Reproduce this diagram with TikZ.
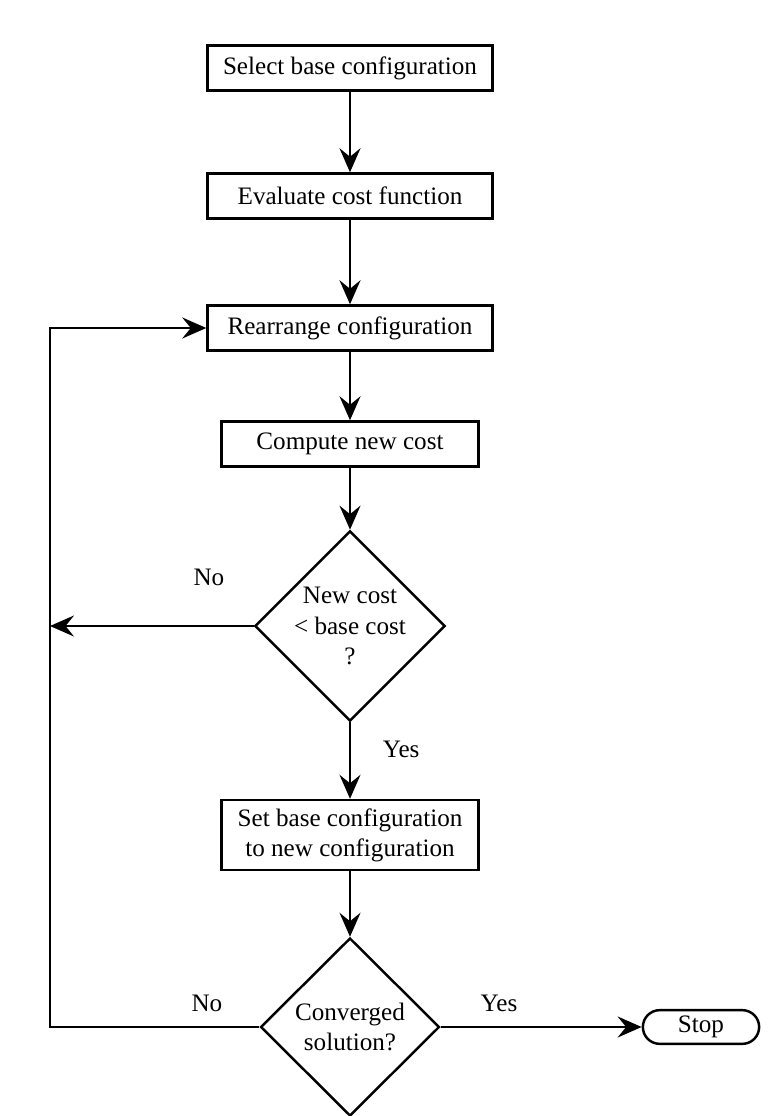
\documentclass[tikz,border=0pt]{standalone}
\usepackage{fontspec}
\setmainfont{Liberation Serif}
\usetikzlibrary{shapes.geometric, shapes.misc, arrows.meta, positioning}
\tikzset{
  procbox/.style={rectangle, draw=black, line width=1.4pt, minimum width=#1, minimum height=0.9cm, font=\fontsize{14.3}{17}\selectfont, align=center},
  procbox/.default=5.7cm,
  decnode/.style={diamond, draw=black, line width=1.4pt, minimum width=3.58cm, minimum height=3.56cm, inner sep=0pt, font=\fontsize{14.3}{17.5}\selectfont, align=center},
  termnode/.style={rounded rectangle, draw=black, line width=1.4pt, minimum width=2.56cm, minimum height=0.64cm, font=\fontsize{14.3}{17}\selectfont},
  flowarrow/.style={-{Stealth[length=0.48cm, width=0.42cm, inset=0.17cm]}, line width=1.3pt},
  flowlabel/.style={font=\fontsize{14.3}{17}\selectfont, inner sep=1pt},
}
\begin{document}
\begin{tikzpicture}
\useasboundingbox (0,0) rectangle (15.6,-22.32);

% Main column
\node[procbox] (select) at (7,-1.36) {Select base configuration};
\node[procbox] (evaluate) at (7,-3.92) {Evaluate cost function};
\node[procbox] (rearrange) at (7,-6.56) {Rearrange configuration};
\node[procbox=5.14cm] (compute) at (7,-8.88) {Compute new cost};
\node[decnode] (newcost) at (7,-12.52) {New cost\\< base cost\\?};
\node[procbox=5.14cm, minimum height=1.4cm] (setbase) at (7,-16.7) {Set base configuration\\to new configuration};
\node[decnode] (converged) at (7,-20.54) {Converged\\solution?};
\node[termnode] (stop) at (14.02,-20.54) {Stop};

% Return path corner
\coordinate (loopcorner) at (1.0,-20.54);

% Connectors
\draw[flowarrow] (select) -- (evaluate);
\draw[flowarrow] (evaluate) -- (rearrange);
\draw[flowarrow] (rearrange) -- (compute);
\draw[flowarrow] (compute) -- (newcost);
\draw[flowarrow] (newcost) -- node[flowlabel, right=0.6cm, pos=0.36] (yesone) {Yes} (setbase);
\draw[flowarrow] (newcost.west) -- node[flowlabel, above=0.75cm, pos=0.22] (noone) {No} (newcost.west -| loopcorner);
\draw[flowarrow] (setbase) -- (converged);
\draw[flowarrow] (converged) -- node[flowlabel, above=0.25cm, pos=0.29] (yestwo) {Yes} (stop);
\draw[flowarrow] (converged.west) -- node[flowlabel, above=0.25cm, pos=0.25] (notwo) {No} (loopcorner) |- (rearrange.west);
\end{tikzpicture}
\end{document}
